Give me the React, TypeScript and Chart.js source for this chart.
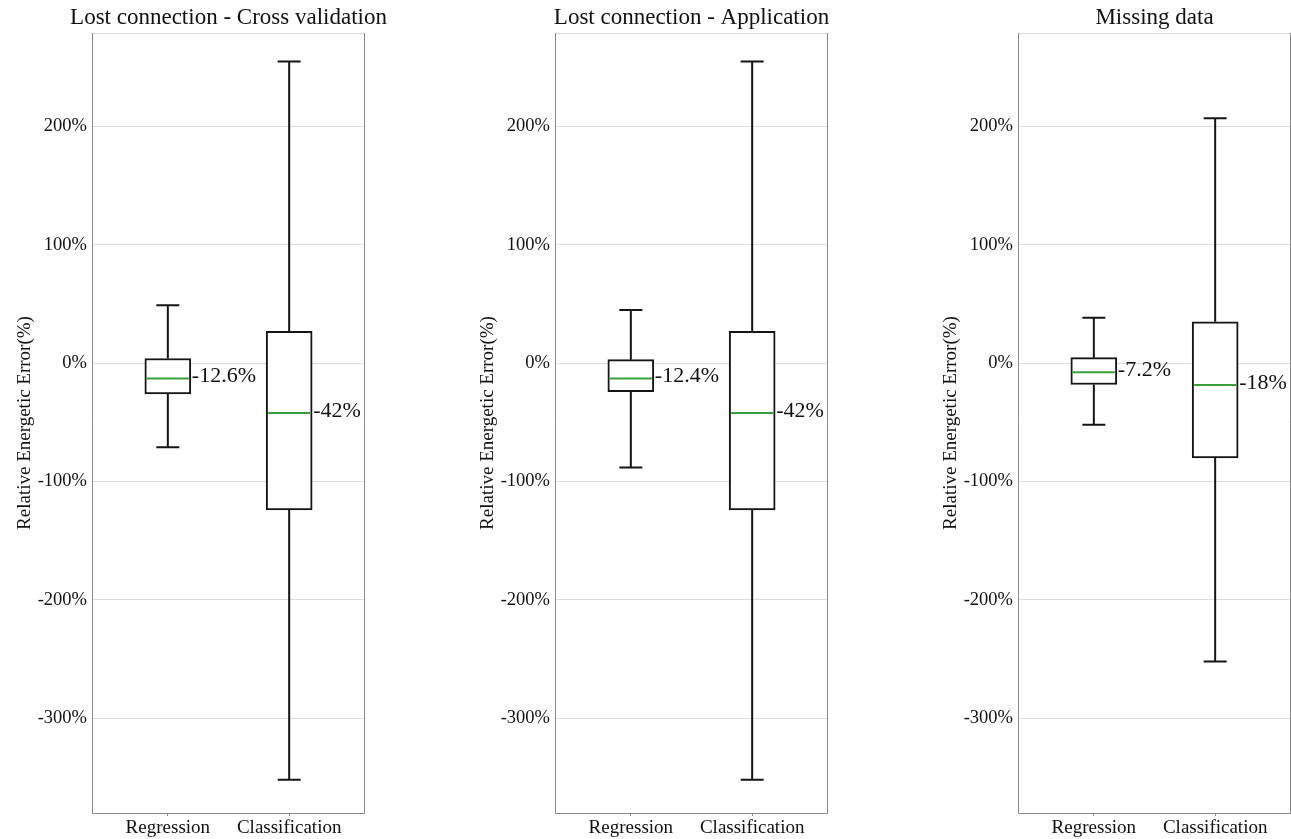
import React, { useEffect, useRef } from "react";
import { Chart, registerables } from "chart.js";

Chart.register(...registerables);

const panelTitles = [
  "Lost connection - Cross validation",
  "Lost connection - Application",
  "Missing data",
];
const categories = ["Regression", "Classification"];
const yTickValues = [-300, -200, -100, 0, 100, 200];

// per panel: [Regression, Classification]
const lowerWhisker = [
  [-71, -352],
  [-88, -352],
  [-52, -252],
];
const lowerQuartile = [
  [-26, -124],
  [-24, -124],
  [-18, -80],
];
const medianValues = [
  [-13, -42],
  [-13, -42],
  [-7.6, -18.3],
];
const upperQuartile = [
  [4, 27],
  [3, 27],
  [4.7, 35],
];
const upperWhisker = [
  [49, 255],
  [45, 255],
  [38.5, 207],
];
const medianLabels = [
  ["-12.6%", "-42%"],
  ["-12.4%", "-42%"],
  ["-7.2%", "-18%"],
];

const FONT = "'Liberation Serif', 'Times New Roman', serif";

const boxPlotPlugin = {
  id: "boxExtras",
  afterDatasetsDraw(chart: any) {
    const p = chart.options.plugins.boxExtras;
    const ctx = chart.ctx;
    const y = chart.scales.y;
    const meta = chart.getDatasetMeta(0);
    ctx.save();
    meta.data.forEach((el: any, i: number) => {
      const x = el.x;
      const w = el.width;
      const yLo = y.getPixelForValue(p.lower[i]);
      const yQ1 = y.getPixelForValue(p.q1[i]);
      const yMed = y.getPixelForValue(p.median[i]);
      const yQ3 = y.getPixelForValue(p.q3[i]);
      const yHi = y.getPixelForValue(p.upper[i]);
      ctx.strokeStyle = "#151515";
      ctx.lineWidth = 2;
      ctx.beginPath();
      ctx.moveTo(x, yQ3);
      ctx.lineTo(x, yHi);
      ctx.moveTo(x - w / 4, yHi);
      ctx.lineTo(x + w / 4, yHi);
      ctx.moveTo(x, yQ1);
      ctx.lineTo(x, yLo);
      ctx.moveTo(x - w / 4, yLo);
      ctx.lineTo(x + w / 4, yLo);
      ctx.stroke();
      ctx.strokeStyle = "#38a038";
      ctx.lineWidth = 2;
      ctx.beginPath();
      ctx.moveTo(x - w / 2 + 2, yMed);
      ctx.lineTo(x + w / 2 - 2, yMed);
      ctx.stroke();
      ctx.fillStyle = "#111";
      ctx.font = `22px ${FONT}`;
      ctx.textAlign = "left";
      ctx.textBaseline = "middle";
      ctx.fillText(p.labels[i], x + w / 2 + 1, yMed - 2);
    });
    ctx.restore();
  },
};

const framePlugin = {
  id: "frame",
  beforeDatasetsDraw(chart: any) {
    const { ctx, chartArea: a } = chart;
    ctx.save();
    ctx.lineWidth = 1;
    ctx.strokeStyle = "#d8d8d8";
    ctx.beginPath();
    ctx.moveTo(a.left, a.top + 0.5);
    ctx.lineTo(a.right, a.top + 0.5);
    ctx.stroke();
    ctx.strokeStyle = "#888888";
    ctx.beginPath();
    ctx.moveTo(a.left + 0.5, a.top);
    ctx.lineTo(a.left + 0.5, a.bottom + 0.5);
    ctx.lineTo(a.right - 0.5, a.bottom + 0.5);
    ctx.lineTo(a.right - 0.5, a.top);
    ctx.stroke();
    // panel title, centred on the plot area
    const title = chart.options.plugins.boxExtras.title;
    ctx.fillStyle = "#111";
    ctx.font = `23px ${FONT}`;
    ctx.textAlign = "center";
    ctx.textBaseline = "alphabetic";
    ctx.fillText(title, (a.left + a.right) / 2, 24);
    ctx.restore();
  },
};

function Panel({ index }: { index: number }) {
  const ref = useRef<HTMLCanvasElement | null>(null);
  useEffect(() => {
    if (!ref.current) return;
    const chart = new Chart(ref.current, {
      type: "bar",
      data: {
        datasets: [
          {
            data: categories.map((c, i) => ({
              x: i + 1,
              y: [lowerQuartile[index][i], upperQuartile[index][i]],
            })) as any,
            backgroundColor: "#ffffff",
            borderColor: "#151515",
            borderWidth: 2,
            borderSkipped: false,
            barThickness: 46,
          },
        ],
      },
      options: {
        responsive: false,
        animation: false,
        layout: { padding: { top: 33, right: 98, bottom: 0, left: 0 } },
        plugins: {
          legend: { display: false },
          tooltip: { enabled: false },
          title: { display: false },
          boxExtras: {
            title: panelTitles[index],
            lower: lowerWhisker[index],
            q1: lowerQuartile[index],
            median: medianValues[index],
            q3: upperQuartile[index],
            upper: upperWhisker[index],
            labels: medianLabels[index],
          },
        } as any,
        scales: {
          x: {
            type: "linear",
            min: 0.375,
            max: 2.625,
            offset: false,
            afterBuildTicks: (s: any) => {
              s.ticks = categories.map((c, i) => ({ value: i + 1 }));
            },
            afterFit: (s: any) => {
              s.height = 26;
            },
            ticks: {
              color: "#111",
              font: { family: FONT, size: 19 },
              padding: 1,
              maxRotation: 0,
              callback: (v: any) => categories[Math.round(v) - 1] ?? "",
            },
            grid: {
              display: true,
              offset: false,
              drawOnChartArea: false,
              drawTicks: true,
              tickLength: 3,
              color: "#888888",
            },
            border: { display: false },
          },
          y: {
            type: "linear",
            min: -380,
            max: 279,
            afterBuildTicks: (s: any) => {
              s.ticks = yTickValues.map((v) => ({ value: v }));
            },
            afterFit: (s: any) => {
              s.width = 92;
            },
            ticks: {
              color: "#111",
              font: { family: FONT, size: 18.5 },
              padding: 5,
              callback: (v: any) => `${v}%`,
            },
            grid: {
              color: "#dedede",
              drawTicks: false,
            },
            border: { display: false },
            title: {
              display: true,
              text: "Relative Energetic Error(%)",
              color: "#111",
              font: { family: FONT, size: 19 },
              padding: { top: 14, bottom: 0 },
            },
          },
        },
      },
      plugins: [framePlugin, boxPlotPlugin],
    } as any);
    return () => chart.destroy();
  }, [index]);
  return (
    <canvas
      ref={ref}
      width={463}
      height={839}
      style={{ position: "absolute", left: 463 * index, top: 0, width: 463, height: 839 }}
    />
  );
}

export default function App() {
  return (
    <div
      style={{
        position: "fixed",
        left: 0,
        top: 0,
        width: 1291,
        height: 839,
        overflow: "hidden",
        background: "#ffffff",
      }}
    >
      {panelTitles.map((t, i) => (
        <Panel key={t} index={i} />
      ))}
    </div>
  );
}
